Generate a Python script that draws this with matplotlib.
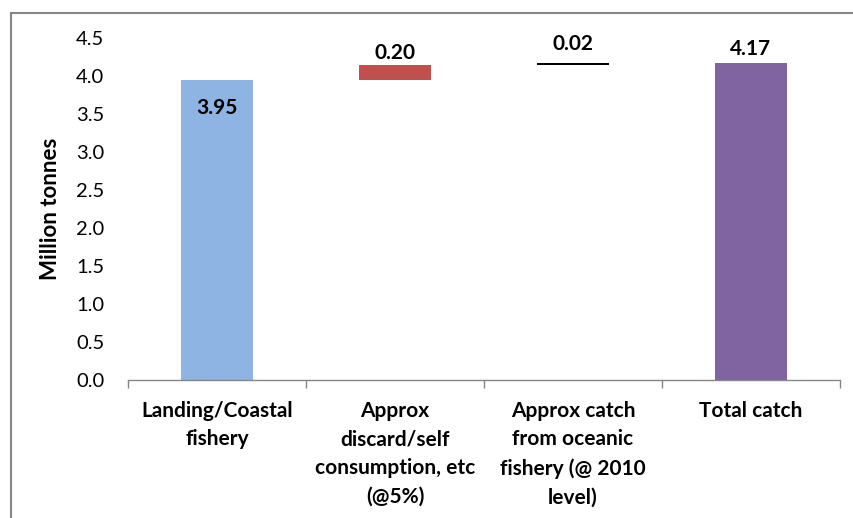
import matplotlib
matplotlib.use("Agg")
import matplotlib.pyplot as plt
from matplotlib.patches import Rectangle

plt.rcParams['font.family'] = ['Lato', 'DejaVu Sans']

categories = ["Landing/Coastal\nfishery",
              "Approx\ndiscard/self\nconsumption, etc\n(@5%)",
              "Approx catch\nfrom oceanic\nfishery (@ 2010\nlevel)",
              "Total catch"]
values = [3.95, 0.20, 0.02, 4.17]
bases = [0.0, 3.95, 4.15, 0.0]
colors = ["#8EB4E3", "#C0504D", "#000000", "#8064A2"]
yticks = [0.0, 0.5, 1.0, 1.5, 2.0, 2.5, 3.0, 3.5, 4.0, 4.5]

# vertical offset (points) of each value label from its bar top
label_offsets = [-20, 8.5, 14, 10.5]

fig = plt.figure(figsize=(8.54, 5.18), dpi=100)
ax = fig.add_axes([0.1499, 0.2664, 0.8337, 0.6602])

x = list(range(len(categories)))
ax.bar(x, values, bottom=bases, width=0.40, color=colors, linewidth=0)

for i, (v, b, dy) in enumerate(zip(values, bases, label_offsets)):
    ax.annotate(f"{v:.2f}", (i, b + v), xytext=(0, dy), textcoords="offset points",
                ha="center", va="center", fontsize=15, fontweight="bold")

ax.set_xlim(-0.5, 3.5)
ax.set_ylim(0, 4.5)
ax.set_yticks(yticks)
ax.set_yticklabels([f"{t:.1f}" for t in yticks], fontsize=14.5)
ax.tick_params(axis="y", length=0, pad=17)

ax.set_xticks(x)
ax.set_xticklabels(categories, fontsize=15, fontweight="bold", linespacing=1.53, va="top")
ax.set_xticks([-0.5, 0.5, 1.5, 2.5, 3.5], minor=True)
ax.tick_params(axis="x", which="major", length=0, pad=15)
ax.tick_params(axis="x", which="minor", length=6, color="#868686", width=1)

for s in ["top", "right", "left"]:
    ax.spines[s].set_visible(False)
ax.spines["bottom"].set_color("#868686")
ax.spines["bottom"].set_linewidth(1)

ax.set_ylabel("Million tonnes", fontsize=16, fontweight="bold", labelpad=11)

# outer chart frame
fig.patches.append(Rectangle((11 / 854, -0.1), 1.2, 1 - 13 / 518 + 0.1,
                             transform=fig.transFigure, fill=False,
                             edgecolor="#868686", linewidth=1.5))

fig.savefig("out.png", dpi=100)
